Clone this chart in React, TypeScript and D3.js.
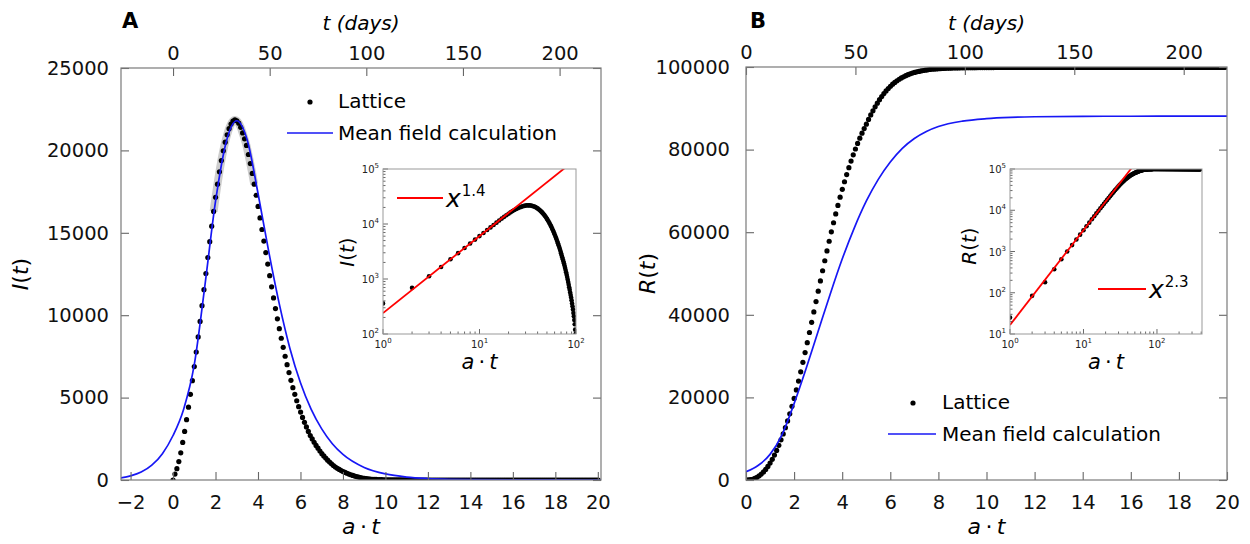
import React, { useEffect, useRef } from 'react';
import * as d3 from 'd3';

const FONT = 'DejaVu Sans, Verdana, sans-serif';
// a (per day): converts the day index of the lattice runs into a·t, and a·t back into days on the top axis
const RATE = 0.091;

// lattice run, infected I(t), one value per day from day 0
const latticeI = [
  1, 360, 690, 1120, 1650, 2280, 2950, 3660, 4420, 5200,
  6030, 6880, 7760, 8680, 9620, 10580, 11550, 12530, 13500, 14460,
  15400, 16300, 17150, 17950, 18700, 19380, 19980, 20500, 20950, 21320,
  21600, 21780, 21850, 21800, 21650, 21400, 21060, 20700, 20300, 19750,
  19200, 18600, 17950, 17280, 16600, 15900, 15200, 14500, 13800, 13100,
  12400, 11720, 11050, 10400, 9780, 9180, 8600, 8050, 7510, 7000,
  6520, 6050, 5600, 5200, 4810, 4450, 4120, 3800, 3500, 3220,
  2950, 2700, 2490, 2290, 2100, 1930, 1760, 1600, 1460, 1330,
  1200, 1090, 980, 880, 790, 710, 640, 570, 510, 460,
  410, 360, 320, 280, 240, 210, 180, 150, 120, 100,
  80, 66, 55, 46, 38, 32, 27, 22, 18, 15,
  13, 11, 9, 8, 7, 6, 5, 4, 4, 3,
  3, 3, 2, 2, 2, 2, 1, 1, 1, 1,
  1, 1, 1, 1, 1, 1, 0, 0, 0, 0,
  0, 0, 0, 0, 0, 0, 0, 0, 0, 0,
  0, 0, 0, 0, 0, 0, 0, 0, 0, 0,
  0, 0, 0, 0, 0, 0, 0, 0, 0, 0,
  0, 0, 0, 0, 0, 0, 0, 0, 0, 0,
  0, 0, 0, 0, 0, 0, 0, 0, 0, 0,
  0, 0, 0, 0, 0, 0, 0, 0, 0, 0,
  0, 0, 0, 0, 0, 0, 0, 0, 0, 0,
  0, 0, 0, 0, 0, 0, 0, 0, 0, 0,
  0,
];

// lattice run, recovered R(t), one value per day from day 0
const latticeR = [
  1, 25, 84, 180, 370, 650, 1000, 1430, 1950, 2560,
  3280, 4100, 5010, 6040, 7170, 8400, 9720, 11150, 12680, 14300,
  16020, 17830, 19750, 21810, 23960, 26190, 28490, 30850, 33260, 35710,
  38190, 40700, 43210, 45720, 48210, 50670, 53090, 55470, 57810, 60080,
  62290, 64430, 66490, 68480, 70390, 72220, 73960, 75630, 77220, 78730,
  80150, 81500, 82770, 83970, 85090, 86150, 87300, 88400, 89400, 90350,
  91250, 92080, 92850, 93560, 94210, 94800, 95340, 95830, 96270, 96670,
  97030, 97350, 97640, 97900, 98130, 98340, 98520, 98680, 98820, 98940,
  99050, 99150, 99240, 99320, 99390, 99450, 99500, 99545, 99585, 99620,
  99650, 99675, 99700, 99720, 99740, 99755, 99770, 99782, 99793, 99803,
  99812, 99820, 99827, 99833, 99839, 99844, 99849, 99853, 99857, 99861,
  99864, 99867, 99870, 99872, 99874, 99876, 99878, 99880, 99881, 99882,
  99883, 99884, 99885, 99886, 99887, 99887, 99888, 99888, 99889, 99889,
  99890, 99890, 99890, 99890, 99891, 99891, 99891, 99891, 99892, 99892,
  99892, 99892, 99892, 99893, 99893, 99893, 99893, 99893, 99893, 99894,
  99894, 99894, 99894, 99894, 99894, 99894, 99895, 99895, 99895, 99895,
  99895, 99895, 99895, 99895, 99896, 99896, 99896, 99896, 99896, 99896,
  99896, 99896, 99896, 99896, 99897, 99897, 99897, 99897, 99897, 99897,
  99897, 99897, 99897, 99897, 99897, 99897, 99897, 99898, 99898, 99898,
  99898, 99898, 99898, 99898, 99898, 99898, 99898, 99898, 99898, 99898,
  99898, 99898, 99898, 99898, 99898, 99899, 99899, 99899, 99899, 99899,
  99899, 99899, 99899, 99899, 99899, 99899, 99899, 99899, 99899, 99899,
  99899, 99899, 99899, 99899, 99899, 99899, 99899, 99899, 99899, 99899,
  99899, 99899, 99899, 99899, 99899, 99899, 99899, 99899, 99899, 99899,
  99899, 99899, 99899, 99899, 99899, 99899, 99899, 99899, 99899, 99899,
  99900, 99900, 99900, 99900, 99900, 99900, 99900, 99900, 99900, 99900,
  99900, 99900, 99900, 99900, 99900, 99900, 99900, 99900, 99900, 99900,
  99900, 99900, 99900, 99900, 99900, 99900, 99900, 99900, 99900, 99900,
  99900, 99900, 99900, 99900, 99900, 99900, 99900, 99900, 99900, 99900,
  99900, 99900, 99900, 99900, 99900, 99900, 99900, 99900, 99900, 99900,
  99900, 99900, 99900, 99900, 99900, 99900, 99900, 99900, 99900, 99900,
  99900, 99900, 99900, 99900, 99900, 99900, 99900, 99900, 99900, 99900,
  99900, 99900, 99900, 99900, 99900, 99900, 99900, 99900, 99900, 99900,
  99900, 99900, 99900, 99900, 99900, 99900, 99900, 99900, 99900, 99900,
  99900, 99900, 99900, 99900, 99900, 99900, 99900, 99900, 99900, 99900,
  99900, 99900, 99900, 99900, 99900, 99900, 99900, 99900, 99900, 99900,
  99900, 99900, 99900, 99900, 99900, 99900, 99900, 99900, 99900, 99900,
  99900, 99900, 99900, 99900, 99900, 99900, 99900, 99900, 99900, 99900,
  99900, 99900, 99900, 99900, 99900, 99900, 99900, 99900, 99900, 99900,
  99900,
];

// mean field calculation, sampled along a·t
const meanFieldIx = [-2.5, -2, -1.5, -1, -0.5, 0, 0.5, 1, 1.5, 2, 2.5, 3, 3.5, 4, 4.5, 5, 5.5, 6, 6.5, 7, 7.5, 8, 9, 10, 11, 12, 13, 14, 16, 18, 20.5];
const meanFieldI = [120, 250, 480, 900, 1600, 2700, 4300, 7000, 11800, 16900, 20500, 21800, 20600, 17400, 13900, 10700, 8000, 5900, 4300, 3100, 2200, 1550, 760, 370, 180, 90, 45, 22, 6, 2, 0];
const meanFieldRx = [0, 0.5, 1, 1.5, 2, 2.5, 3, 3.5, 4, 4.5, 5, 5.5, 6, 6.5, 7, 7.5, 8, 9, 10, 11, 12, 14, 16, 20.5];
const meanFieldR = [2000, 3500, 6200, 11000, 18500, 27000, 36000, 45000, 53500, 61000, 67500, 72800, 77000, 80300, 82700, 84400, 85600, 86900, 87500, 87800, 87950, 88050, 88080, 88100];

// power-law fits shown in the insets
const fitExpI = 1.4;
const fitAmpI = 240;
const fitExpR = 2.3;
const fitAmpR = 16.5;

const xTicksA = [-2, 0, 2, 4, 6, 8, 10, 12, 14, 16, 18, 20];
const xTicksB = [0, 2, 4, 6, 8, 10, 12, 14, 16, 18, 20];
const dayTicks = [0, 50, 100, 150, 200];
const yTicksA = [0, 5000, 10000, 15000, 20000, 25000];
const yTicksB = [0, 20000, 40000, 60000, 80000, 100000];

type Part = [string, boolean];

function mathText(sel: any, parts: Part[]) {
  parts.forEach(([s, italic]) => {
    sel.append('tspan').attr('font-style', italic ? 'italic' : 'normal').text(s);
  });
  return sel;
}

function styleAxis(g: any, labels = true) {
  g.attr('font-family', FONT).attr('font-size', 19.5);
  g.select('.domain').remove();
  g.selectAll('.tick line').attr('stroke', '#666').attr('stroke-width', 1.1);
  if (labels) g.selectAll('.tick text').attr('fill', '#111');
}

function drawPanel(svg: any, p: any) {
  const x = d3.scaleLinear().domain(p.xDomain).range([p.left, p.right]);
  const y = d3.scaleLinear().domain(p.yDomain).range([p.bottom, p.top]);
  const days = d3.scaleLinear().domain(p.xDomain.map((v: number) => v / RATE)).range([p.left, p.right]);
  const midX = (p.left + p.right) / 2;
  const midY = (p.top + p.bottom) / 2;

  const clipId = `main-clip-${p.letter}`;
  svg.append('clipPath').attr('id', clipId).append('rect')
    .attr('x', p.left).attr('y', p.top)
    .attr('width', p.right - p.left).attr('height', p.bottom - p.top);

  const plot = svg.append('g').attr('clip-path', `url(#${clipId})`);
  const pts = p.lattice
    .map((v: number, d: number) => [d * RATE, v])
    .filter((d: number[]) => d[0] <= p.xDomain[1]);
  const line = d3.line<number[]>().x(d => x(d[0])).y(d => y(d[1])).curve(d3.curveMonotoneX);

  // grey spread of the lattice runs around the peak
  if (p.band) {
    plot.append('path')
      .datum(pts.filter((d: number[]) => d[0] > 1.9 && d[0] < 3.9))
      .attr('d', line)
      .attr('fill', 'none')
      .attr('stroke', '#cdcdcd')
      .attr('stroke-width', 8);
  }

  plot.selectAll('circle.lattice').data(pts).enter().append('circle')
    .attr('class', 'lattice')
    .attr('cx', (d: number[]) => x(d[0]))
    .attr('cy', (d: number[]) => y(d[1]))
    .attr('r', 2.6)
    .attr('fill', '#000');

  const mf = p.mfX.map((t: number, i: number) => [t, p.mfY[i]]);
  plot.append('path').datum(mf)
    .attr('d', line)
    .attr('fill', 'none')
    .attr('stroke', '#1717f5')
    .attr('stroke-width', 1.7);

  // axes, ticks point inwards
  svg.append('g').attr('transform', `translate(0,${p.bottom})`)
    .call(d3.axisBottom(x).tickValues(p.xTicks).tickSize(-8).tickPadding(15).tickFormat(d3.format('d')))
    .call((g: any) => styleAxis(g));
  svg.append('g').attr('transform', `translate(0,${p.top})`)
    .call(d3.axisTop(days).tickValues(dayTicks).tickSize(-8).tickPadding(8).tickFormat(d3.format('d')))
    .call((g: any) => styleAxis(g));
  svg.append('g').attr('transform', `translate(${p.left},0)`)
    .call(d3.axisLeft(y).tickValues(p.yTicks).tickSize(-8).tickPadding(p.yPad).tickFormat(d3.format('d')))
    .call((g: any) => styleAxis(g));
  svg.append('g').attr('transform', `translate(${p.right},0)`)
    .call(d3.axisRight(y).tickValues(p.yTicks).tickSize(-8).tickFormat(() => ''))
    .call((g: any) => styleAxis(g, false));

  svg.append('rect')
    .attr('x', p.left).attr('y', p.top)
    .attr('width', p.right - p.left).attr('height', p.bottom - p.top)
    .attr('fill', 'none').attr('stroke', '#7a7a7a').attr('stroke-width', 1.2);

  // titles
  svg.append('text').attr('x', p.letterX).attr('y', 28)
    .attr('font-family', FONT).attr('font-size', 21).attr('font-weight', 'bold').text(p.letter);
  mathText(svg.append('text').attr('x', midX).attr('y', 30).attr('text-anchor', 'middle')
    .attr('font-family', FONT).attr('font-size', 20), [['t (days)', true]]);
  mathText(svg.append('text').attr('x', midX).attr('y', 534).attr('text-anchor', 'middle')
    .attr('font-family', FONT).attr('font-size', 22), [['a', true], ['\u2009·\u2009', false], ['t', true]]);
  mathText(svg.append('text')
    .attr('transform', `translate(${p.yLabelX},${midY}) rotate(-90)`)
    .attr('text-anchor', 'middle')
    .attr('font-family', FONT).attr('font-size', 22), p.yLabel);

  // legend
  const lg = p.legend;
  svg.append('circle').attr('cx', lg.dotX).attr('cy', lg.dotY).attr('r', 2.6).attr('fill', '#000');
  svg.append('text').attr('x', lg.textX).attr('y', lg.dotY + 6)
    .attr('font-family', FONT).attr('font-size', 20).text('Lattice');
  svg.append('line').attr('x1', lg.lineX1).attr('x2', lg.lineX2).attr('y1', lg.lineY).attr('y2', lg.lineY)
    .attr('stroke', '#1717f5').attr('stroke-width', 1.7);
  svg.append('text').attr('x', lg.textX).attr('y', lg.lineY + 7)
    .attr('font-family', FONT).attr('font-size', 20).text('Mean field calculation');
}

function powerLabel(sel: any, exp: number) {
  sel.append('tspan').text('10');
  sel.append('tspan').attr('font-size', 7).attr('dy', -5).text(String(exp));
}

function drawInset(svg: any, s: any) {
  const x = d3.scaleLog().domain(s.xDomain).range([s.left, s.right]);
  const y = d3.scaleLog().domain(s.yDomain).range([s.bottom, s.top]);

  svg.append('rect')
    .attr('x', s.left).attr('y', s.top)
    .attr('width', s.right - s.left).attr('height', s.bottom - s.top)
    .attr('fill', '#fff');

  const clipId = `inset-clip-${s.id}`;
  svg.append('clipPath').attr('id', clipId).append('rect')
    .attr('x', s.left).attr('y', s.top)
    .attr('width', s.right - s.left).attr('height', s.bottom - s.top);
  const plot = svg.append('g').attr('clip-path', `url(#${clipId})`);

  const pts = s.lattice
    .map((v: number, d: number) => [d, v])
    .filter((d: number[]) => d[0] >= 1 && d[0] <= s.xDomain[1] && d[1] > 0);
  plot.selectAll('circle').data(pts).enter().append('circle')
    .attr('cx', (d: number[]) => x(d[0]))
    .attr('cy', (d: number[]) => y(d[1]))
    .attr('r', 2.3)
    .attr('fill', '#000');

  const fit = s.xDomain.map((t: number) => [t, s.fitAmp * Math.pow(t, s.fitExp)]);
  plot.append('line')
    .attr('x1', x(fit[0][0])).attr('y1', y(fit[0][1]))
    .attr('x2', x(fit[1][0])).attr('y2', y(fit[1][1]))
    .attr('stroke', '#f00').attr('stroke-width', 1.8);

  const isMajor = (v: number) => Math.abs(Math.log10(v) - Math.round(Math.log10(v))) < 1e-9;

  // log ticks, inward
  x.ticks().forEach((v: number) => {
    const len = isMajor(v) ? 5 : 2.5;
    svg.append('line').attr('x1', x(v)).attr('x2', x(v)).attr('y1', s.bottom).attr('y2', s.bottom - len)
      .attr('stroke', '#444').attr('stroke-width', 0.8);
    if (isMajor(v)) {
      const t = svg.append('text').attr('x', x(v)).attr('y', s.bottom + 14).attr('text-anchor', 'middle')
        .attr('font-family', FONT).attr('font-size', 10).attr('fill', '#222');
      powerLabel(t, Math.round(Math.log10(v)));
    }
  });
  y.ticks().forEach((v: number) => {
    const len = isMajor(v) ? 5 : 2.5;
    svg.append('line').attr('x1', s.left).attr('x2', s.left + len).attr('y1', y(v)).attr('y2', y(v))
      .attr('stroke', '#444').attr('stroke-width', 0.8);
    if (isMajor(v)) {
      const t = svg.append('text').attr('x', s.left - 4).attr('y', y(v) + 4).attr('text-anchor', 'end')
        .attr('font-family', FONT).attr('font-size', 10).attr('fill', '#222');
      powerLabel(t, Math.round(Math.log10(v)));
    }
  });

  svg.append('rect')
    .attr('x', s.left).attr('y', s.top)
    .attr('width', s.right - s.left).attr('height', s.bottom - s.top)
    .attr('fill', 'none').attr('stroke', '#999').attr('stroke-width', 1);

  mathText(svg.append('text').attr('x', (s.left + s.right) / 2).attr('y', 369).attr('text-anchor', 'middle')
    .attr('font-family', FONT).attr('font-size', 21), [['a', true], ['\u2009·\u2009', false], ['t', true]]);
  mathText(svg.append('text')
    .attr('transform', `translate(${s.yLabelX},${s.yLabelY}) rotate(-90)`)
    .attr('text-anchor', 'middle')
    .attr('font-family', FONT).attr('font-size', 20), s.yLabel);

  // legend of the fit
  const lg = s.legend;
  svg.append('line').attr('x1', lg.x1).attr('x2', lg.x2).attr('y1', lg.y).attr('y2', lg.y)
    .attr('stroke', '#f00').attr('stroke-width', 2);
  const t = svg.append('text').attr('x', lg.x2 + 3).attr('y', lg.y + 9)
    .attr('font-family', FONT).attr('font-size', 25);
  t.append('tspan').attr('font-style', 'italic').text('x');
  t.append('tspan').attr('font-size', 15).attr('dy', -11).attr('dx', 1).text(String(s.fitExp));
}

const panelA = {
  letter: 'A', letterX: 122, left: 121, right: 601, top: 68, bottom: 480,
  xDomain: [-2.45, 20.15], yDomain: [0, 25000], xTicks: xTicksA, yTicks: yTicksA, yPad: 12,
  lattice: latticeI, mfX: meanFieldIx, mfY: meanFieldI, band: true,
  yLabel: [['I', true], ['(', false], ['t', true], [')', false]] as Part[], yLabelX: 28,
  legend: { dotX: 310, dotY: 102, textX: 338, lineX1: 287, lineX2: 333, lineY: 133 },
};

const panelB = {
  letter: 'B', letterX: 750, left: 746, right: 1227, top: 67, bottom: 480,
  xDomain: [0, 20], yDomain: [0, 100000], xTicks: xTicksB, yTicks: yTicksB, yPad: 16,
  lattice: latticeR, mfX: meanFieldRx, mfY: meanFieldR, band: false,
  yLabel: [['R', true], ['(', false], ['t', true], [')', false]] as Part[], yLabelX: 655,
  legend: { dotX: 913, dotY: 403, textX: 942, lineX1: 888, lineX2: 936, lineY: 434 },
};

const insetA = {
  id: 'A', left: 383, right: 576, top: 169, bottom: 334,
  xDomain: [1, 100], yDomain: [100, 100000], lattice: latticeI,
  fitExp: fitExpI, fitAmp: fitAmpI,
  yLabel: [['I', true], ['(', false], ['t', true], [')', false]] as Part[], yLabelX: 354, yLabelY: 252,
  legend: { x1: 397, x2: 443, y: 198 },
};

const insetB = {
  id: 'B', left: 1010, right: 1202, top: 169, bottom: 334,
  xDomain: [1, 410], yDomain: [10, 100000], lattice: latticeR,
  fitExp: fitExpR, fitAmp: fitAmpR,
  yLabel: [['R', true], ['(', false], ['t', true], [')', false]] as Part[], yLabelX: 976, yLabelY: 246,
  legend: { x1: 1098, x2: 1146, y: 289 },
};

const App = () => {
  const chartRef = useRef<SVGSVGElement>(null);

  useEffect(() => {
    const svg = d3.select(chartRef.current);
    svg.selectAll('*').remove();
    drawPanel(svg, panelA);
    drawPanel(svg, panelB);
    drawInset(svg, insetA);
    drawInset(svg, insetB);
  }, []);

  return (
    <svg
      ref={chartRef}
      width={1250}
      height={544}
      style={{ position: 'absolute', left: 0, top: 0, background: '#fff' }}
    />
  );
};

export default App;
